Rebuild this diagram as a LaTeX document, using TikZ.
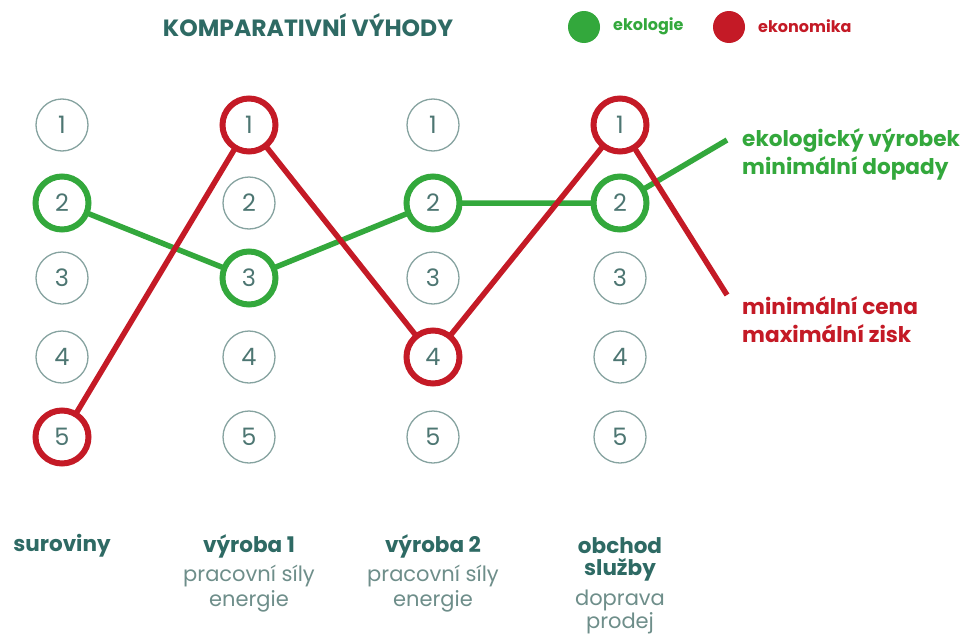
\documentclass[tikz,border=0pt]{standalone}
\usepackage{fontspec}
\setmainfont{Poppins}
\definecolor{eko}{HTML}{33A83C}
\definecolor{ekn}{HTML}{C41A26}
\definecolor{teal}{HTML}{2E6A64}
\definecolor{numc}{HTML}{4D7672}
\definecolor{ring}{HTML}{86A3A0}
\definecolor{soft}{HTML}{6E8E8A}
\begin{document}
\begin{tikzpicture}[x=1pt,y=-1pt,
  num/.style={circle,minimum size=52pt,inner sep=0pt,draw=ring,line width=1.3pt,fill=white,text=numc,font=\fontsize{24}{28}\selectfont},
  ecoc/.style={num,draw=eko,line width=6pt,minimum size=53pt},
  ekoc/.style={num,draw=ekn,line width=6pt,minimum size=53pt},
  gline/.style={draw=eko,line width=5.5pt},
  rline/.style={draw=ekn,line width=5.5pt},
  head/.style={font=\bfseries\fontsize{21.5}{25}\selectfont,text=teal,inner sep=0pt},
  sub/.style={font=\fontsize{21}{25}\selectfont,text=soft,inner sep=0pt,align=center},
  side/.style={font=\bfseries\fontsize{21.6}{28}\selectfont,inner sep=0pt,anchor=west,align=left}]
\useasboundingbox (0,0) rectangle (966,637);
\fill[white] (0,0) rectangle (966,637);
% title and legend
\node[font=\bfseries\fontsize{23.5}{28}\selectfont,text=teal,inner sep=0pt] (title) at (308,25) {KOMPARATIVNÍ VÝHODY};
\node[circle,fill=eko,minimum size=32pt,inner sep=0pt] (lg) at (584,27) {};
\node[font=\bfseries\fontsize{16}{19}\selectfont,text=eko,anchor=west,inner sep=0pt] (lgt) at (613,26) {ekologie};
\node[circle,fill=ekn,minimum size=32pt,inner sep=0pt] (lr) at (729,27) {};
\node[font=\bfseries\fontsize{16}{19}\selectfont,text=ekn,anchor=west,inner sep=0pt] (lrt) at (758,26) {ekonomika};
% grid of numbers
\foreach \c/\x in {a/62,b/249,c/433,d/620}{
  \foreach \r/\y in {1/125,2/203,3/278,4/357,5/437}{
    \node[num] (\c\r) at (\x,\y) {\r};
  }
}
% end points
\coordinate (gend) at (727,140);
\coordinate (rend) at (727,295);
% green path
\draw[gline] (a2) -- (b3) -- (c2) -- (d2) -- (gend);
% red path
\draw[rline] (a5) -- (b1) -- (c4) -- (d1) -- (rend);
% highlighted circles
\node[ecoc] at (a2) {2};
\node[ecoc] at (b3) {3};
\node[ecoc] at (c2) {2};
\node[ecoc] at (d2) {2};
\node[ekoc] at (a5) {5};
\node[ekoc] at (b1) {1};
\node[ekoc] at (c4) {4};
\node[ekoc] at (d1) {1};
% side labels
\node[side,text=eko] (gl) at (742,154) {ekologický výrobek\\minimální dopady};
\node[side,text=ekn] (rl) at (742,320) {minimální cena\\maximální zisk};
% bottom labels
\node[head] (h1) at (62,546) {suroviny};
\node[head] (h2) at (249,546) {výroba 1};
\node[sub] (s2a) at (249,576) {pracovní síly};
\node[sub] (s2b) at (249,601) {energie};
\node[head] (h3) at (433,546) {výroba 2};
\node[sub] (s3a) at (433,576) {pracovní síly};
\node[sub] (s3b) at (433,601) {energie};
\node[head] (h4a) at (620,546) {obchod};
\node[head] (h4b) at (620,570) {služby};
\node[sub] (s4a) at (620,600) {doprava};
\node[sub] (s4b) at (620,623) {prodej};
\end{tikzpicture}
\end{document}
